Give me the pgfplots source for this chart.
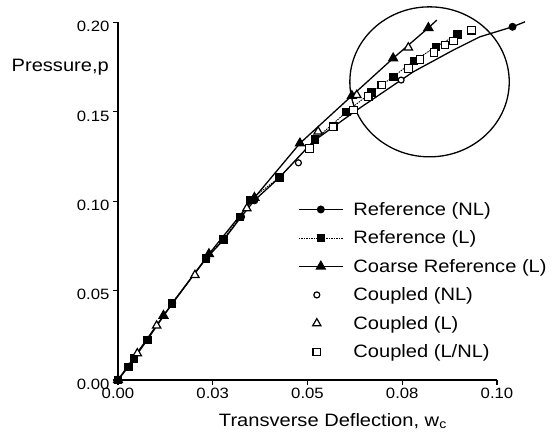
\documentclass[border=0pt]{standalone}
\usepackage{pgfplots}
\pgfplotsset{compat=1.18}
\usetikzlibrary{shapes.geometric}
\usepackage{fontspec}
\setmainfont{Liberation Sans}[FakeStretch=1.12]

\pgfplotsset{
  lineleg/.style={legend image code/.code={\draw[##1, mark indices={2}] plot coordinates {(0bp,0bp) (22bp,0bp) (44bp,0bp)};}},
  markleg/.style={legend image code/.code={\path (0bp,0bp) (44bp,0bp); \draw[##1] plot coordinates {(18bp,0bp)};}},
}

\pgfplotstableread{
x y
0 0
0.0027 0.0074
0.0077 0.0224
0.0143 0.0429
0.0233 0.0681
0.0280 0.0787
0.0325 0.0913
0.0360 0.1005
0.0426 0.1133
0.0515 0.1335
0.0630 0.1510
0.0779 0.1724
0.0885 0.1846
0.0955 0.1920
0.1041 0.1976
0.1074 0.2004
}\refNL

\pgfplotstableread{
x y
0 0
0.0027 0.0074
0.0042 0.0121
0.0077 0.0224
0.0142 0.0429
0.0232 0.0680
0.0278 0.0787
0.0322 0.0913
0.0348 0.1007
0.0426 0.1133
0.0520 0.1345
0.0603 0.1500
0.0669 0.1610
0.0726 0.1696
0.0781 0.1786
0.0839 0.1864
0.0895 0.1933
}\refL

\pgfplotstableread{
x y
0 0
0.0120 0.0360
0.0240 0.0705
0.0360 0.1020
0.0480 0.1324
0.0617 0.1590
0.0726 0.1800
0.0819 0.1970
0.0841 0.2013
}\coarse

\pgfplotstableread{
x y
0.0476 0.1215
0.0747 0.1678
}\cplNL

\pgfplotstableread{
x y
0.0051 0.0149
0.0102 0.0304
0.0203 0.0587
0.0340 0.0960
0.0528 0.1390
0.0630 0.1594
0.0766 0.1860
}\cplL

\pgfplotstableread{
x y
0.0505 0.1296
0.0568 0.1417
0.0621 0.1510
0.0660 0.1585
0.0696 0.1650
0.0766 0.1743
0.0797 0.1794
0.0834 0.1833
0.0863 0.1874
0.0885 0.1896
0.0933 0.1957
}\cplLNL

\begin{document}
\begin{tikzpicture}
\begin{axis}[
  at={(0,0)}, anchor=south west,
  scale only axis, width=379bp, height=357.5bp,
  xmin=0, xmax=0.1, ymin=0, ymax=0.2,
  clip=false,
  axis x line=bottom, axis y line=left,
  axis line style={-, line width=1.2bp},
  tick align=outside, major tick length=5bp,
  tick style={line width=1.2bp, black},
  xtick={0,0.025,0.05,0.075,0.1},
  xticklabels={0.00,0.03,0.05,0.08,0.10},
  ytick={0,0.05,0.1,0.15,0.2},
  yticklabels={0.00,0.05,0.10,0.15,0.20},
  /pgf/number format/assume math mode=true,
  ticklabel style={font=\fontsize{15}{18}\selectfont},
  yticklabel style={yshift=-4bp},
  xlabel={Transverse Deflection, w\textsubscript{c}},
  xlabel style={at={(axis description cs:0.567,0)}, anchor=base, yshift=-46bp, inner sep=0pt, font=\fontsize{18}{21}\selectfont},
  ylabel={Pressure,p},
  ylabel style={rotate=-90, at={(axis description cs:0,0.8755)}, anchor=east, xshift=-9bp, inner sep=0pt, font=\fontsize{18}{21}\selectfont},
  legend cell align=left,
  legend style={at={(axis description cs:0.467,0.509)}, anchor=north west, draw=none, fill=none,
    font=\fontsize{18}{21}\selectfont, row sep=10bp, column sep=8bp, nodes={inner sep=2bp}},
]
\addplot[black, line width=1.3bp, mark=*, mark size=3.3bp, mark indices={1,2,3,4,5,6,7,8,9,15}, lineleg]
  table[x=x,y=y] {\refNL};
\addlegendentry{Reference (NL)}
\addplot[black, line width=0.9bp, dash pattern=on 1.5bp off 1bp, mark=square*, mark size=3.8bp, mark options={solid}, lineleg]
  table[x=x,y=y] {\refL};
\addlegendentry{Reference (L)}
\addplot[black, line width=1.3bp, mark=triangle*, mark size=5bp, mark indices={1,2,3,4,5,6,7,8}, lineleg]
  table[x=x,y=y] {\coarse};
\addlegendentry{Coarse Reference (L)}
\addplot[black, only marks, line width=1.2bp, mark=*, mark size=3bp, mark options={fill=white}, markleg]
  table[x=x,y=y] {\cplNL};
\addlegendentry{Coupled (NL)}
\addplot[black, only marks, line width=1.2bp, mark=triangle*, mark size=4.8bp, mark options={fill=white}, markleg]
  table[x=x,y=y] {\cplL};
\addlegendentry{Coupled (L)}
\addplot[black, only marks, line width=1.2bp, mark=square*, mark size=3.8bp, mark options={fill=white}, markleg]
  table[x=x,y=y] {\cplLNL};
\addlegendentry{Coupled (L/NL)}
\node[draw, line width=1.3bp, ellipse, inner sep=0pt, minimum width=159.4bp, minimum height=150bp] at (axis cs:0.0822,0.1668) {};
\end{axis}
\pgfresetboundingbox
\path (-118bp,-66bp) rectangle (434bp,380bp);
\end{tikzpicture}
\end{document}
